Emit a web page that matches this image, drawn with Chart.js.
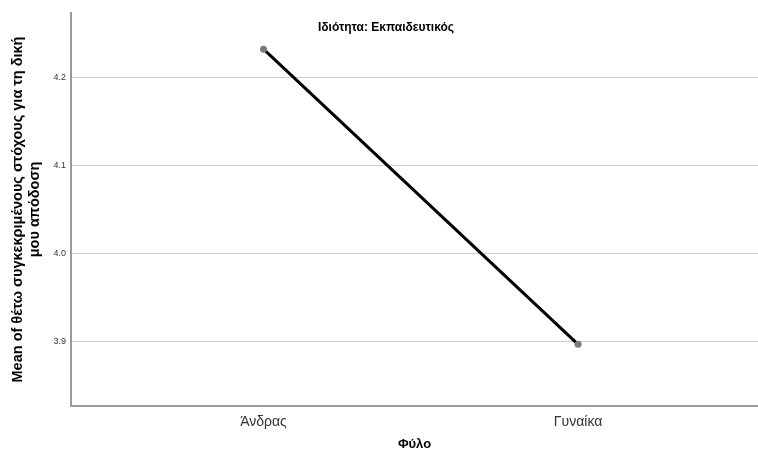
<!DOCTYPE html>
<html lang="el">
<head>
  <meta charset="UTF-8" />
  <title>Ιδιότητα: Εκπαιδευτικός</title>
  <script src="https://cdn.jsdelivr.net/npm/chart.js"></script>
  <style>
    html, body { margin: 0; padding: 0; background: #fff; }
    #wrap { width: 758px; height: 456px; position: relative; }
  </style>
</head>
<body>
  <div id="wrap"><canvas id="grafik"></canvas></div>
  <script>
    // data
    const kategori = ['Άνδρας', 'Γυναίκα'];
    const nilai = [4.232, 3.897];
    const yTicks = [3.9, 4.0, 4.1, 4.2];
    const judulPanel = 'Ιδιότητα: Εκπαιδευτικός';
    const judulX = 'Φύλο';
    const judulY = ['Mean of θέτω συγκεκριμένους στόχους για τη δική', 'μου απόδοση'];

    const fontFam = '"Liberation Sans", Arial, sans-serif';

    // tulis judul panel di dalam area grafik
    const panelTitle = {
      id: 'panelTitle',
      afterDraw(chart) {
        const { ctx, chartArea } = chart;
        ctx.save();
        ctx.font = 'bold 12px ' + fontFam;
        ctx.fillStyle = '#000';
        ctx.textAlign = 'center';
        ctx.textBaseline = 'middle';
        ctx.fillText(judulPanel, 386, chartArea.top + 15);
        ctx.restore();
      }
    };

    new Chart(document.getElementById('grafik'), {
      type: 'line',
      data: {
        datasets: [{
          data: nilai.map((v, i) => ({ x: i + 1, y: v })),
          borderColor: '#000',
          borderWidth: 3,
          pointRadius: 3.5,
          pointBackgroundColor: '#7a7a7a',
          pointBorderColor: '#7a7a7a',
          pointBorderWidth: 0,
          tension: 0
        }]
      },
      options: {
        responsive: true,
        maintainAspectRatio: false,
        animation: false,
        layout: { autoPadding: false, padding: { top: 13, right: 0, left: 0, bottom: 0 } },
        plugins: { legend: { display: false }, tooltip: { enabled: false } },
        scales: {
          x: {
            type: 'linear',
            min: 0.388,
            max: 2.572,
            afterBuildTicks: s => { s.ticks = kategori.map((k, i) => ({ value: i + 1 })); },
            afterFit: s => { s.height = 50; s.paddingRight = 0; s.paddingLeft = 0; },
            grid: { display: false, drawTicks: false },
            border: { color: '#9a9a9a', width: 2 },
            ticks: {
              callback: v => kategori[v - 1],
              color: '#333',
              padding: 8,
              maxRotation: 0,
              font: { size: 14, family: fontFam }
            },
            title: {
              display: true,
              text: judulX,
              color: '#000',
              padding: { top: 17 },
              font: { size: 13, weight: 'bold', family: fontFam }
            }
          },
          y: {
            min: 3.827,
            max: 4.273,
            afterBuildTicks: s => { s.ticks = yTicks.map(v => ({ value: v })); },
            afterFit: s => { s.width = 71; },
            grid: { color: '#cfcfcf', lineWidth: 1, drawTicks: false },
            border: { color: '#9a9a9a', width: 2 },
            ticks: {
              callback: v => v.toFixed(1),
              color: '#333',
              padding: 5,
              font: { size: 9, family: fontFam }
            },
            title: {
              display: true,
              text: judulY,
              color: '#000',
              padding: { top: 10, bottom: 0 },
              font: { size: 14.5, weight: 'bold', family: fontFam, lineHeight: 1.17 }
            }
          }
        }
      },
      plugins: [panelTitle]
    });
  </script>
</body>
</html>
